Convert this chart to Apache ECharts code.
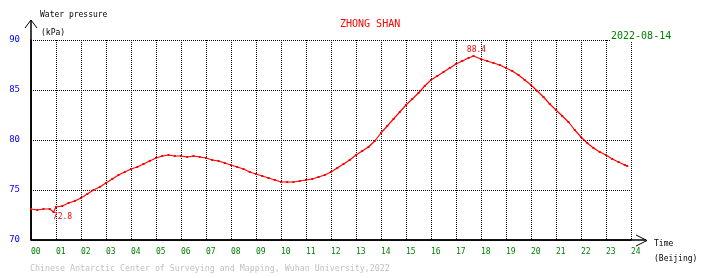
<!DOCTYPE html>
<html>
<head>
<meta charset="utf-8">
<script src="https://cdn.jsdelivr.net/npm/echarts@6/dist/echarts.min.js"></script>
<style>html,body{margin:0;padding:0;background:#fff}#c{width:710px;height:278px}</style>
</head>
<body>
<div id="c"></div>
<script>
const hours = [0.00,0.25,0.50,0.75,0.90,1.00,1.25,1.50,1.75,2.00,2.25,2.50,2.75,3.00,3.25,3.50,3.75,4.00,4.25,4.50,4.75,5.00,5.25,5.50,5.75,6.00,6.25,6.50,6.75,7.00,7.25,7.50,7.75,8.00,8.25,8.50,8.75,9.00,9.25,9.50,9.75,10.00,10.25,10.50,10.75,11.00,11.25,11.50,11.75,12.00,12.25,12.50,12.75,13.00,13.25,13.50,13.75,14.00,14.25,14.50,14.75,15.00,15.25,15.50,15.75,16.00,16.25,16.50,16.75,17.00,17.25,17.50,17.70,18.00,18.25,18.50,18.75,19.00,19.25,19.50,19.75,20.00,20.25,20.50,20.75,21.00,21.25,21.50,21.75,22.00,22.25,22.50,22.75,23.00,23.25,23.50,23.75,23.85];
const pressure = [73.1,73.0,73.1,73.1,72.8,73.3,73.4,73.7,73.9,74.2,74.6,75.0,75.3,75.7,76.1,76.5,76.8,77.1,77.3,77.6,77.9,78.2,78.4,78.5,78.4,78.4,78.3,78.4,78.3,78.2,78.0,77.9,77.7,77.5,77.3,77.1,76.8,76.6,76.4,76.2,76.0,75.8,75.8,75.8,75.9,76.0,76.1,76.3,76.5,76.8,77.2,77.6,78.0,78.5,78.9,79.3,79.9,80.7,81.4,82.1,82.8,83.5,84.1,84.7,85.4,86.0,86.4,86.8,87.2,87.6,87.9,88.2,88.4,88.1,87.9,87.7,87.5,87.2,86.9,86.5,86.0,85.5,84.9,84.3,83.6,83.0,82.4,81.8,81.0,80.3,79.7,79.2,78.8,78.5,78.1,77.8,77.5,77.4];
const yTicks = [70,75,80,85,90];
const xTickLabels = ['00','01','02','03','04','05','06','07','08','09','10','11','12','13','14','15','16','17','18','19','20','21','22','23','24'];
const titleText = 'ZHONG SHAN';
const dateText = '2022-08-14';
const footer = 'Chinese Antarctic Center of Surveying and Mapping, Wuhan University,2022';

const F = 'DejaVu Sans Mono, monospace';
const chart = echarts.init(document.getElementById('c'), null, {renderer:'canvas'});
const data = hours.map((h,i)=>[h, pressure[i]]);
chart.setOption({
  animation:false,
  backgroundColor:'#fff',
  grid:{left:31, top:40, width:600, height:200},
  xAxis:{type:'value', min:0, max:24, interval:1,
    axisLine:{show:true, lineStyle:{color:'#000', width:1.5}},
    axisTick:{show:false},
    axisLabel:{color:'#008000', fontFamily:F, fontSize:8, align:'left', margin:8,
      formatter:v=>xTickLabels[Math.round(v)]},
    splitLine:{show:true, lineStyle:{color:'#000', type:[1,1], width:1}}
  },
  yAxis:{type:'value', min:70, max:90, interval:5,
    axisLine:{show:true, lineStyle:{color:'#000', width:1.5}},
    axisTick:{show:false},
    axisLabel:{color:'#0000ff', fontFamily:F, fontSize:9, margin:11, padding:[0,0,5,0],
      formatter:v=>yTicks.includes(v)?String(v):''},
    splitLine:{show:true, lineStyle:{color:'#000', type:[1,1], width:1}}
  },
  series:[{type:'line', data:data, showSymbol:true, symbol:'rect', symbolSize:2,
    itemStyle:{color:'#ff0000'},
    lineStyle:{color:'#ff0000', width:1.2}, z:5,
    markPoint:{symbol:'circle', symbolSize:0,
      data:[
        {type:'max', label:{show:true, position:'top', distance:2, offset:[3,0], color:'#ff0000', fontFamily:F, fontSize:8, formatter:p=>p.value.toFixed(1)}},
        {type:'min', label:{show:true, position:'bottom', distance:1, offset:[9,0], color:'#ff0000', fontFamily:F, fontSize:8, formatter:p=>p.value.toFixed(1)}}
      ]}
  }],
  graphic:[
    {type:'line', shape:{x1:31,y1:240,x2:31,y2:20}, style:{stroke:'#000', lineWidth:1.5}},
    {type:'polyline', shape:{points:[[25,28],[31,20],[37,28]]}, style:{stroke:'#000', lineWidth:1, fill:null}},
    {type:'line', shape:{x1:31,y1:240,x2:646,y2:240}, style:{stroke:'#000', lineWidth:1.5}},
    {type:'polyline', shape:{points:[[636,235],[647,240.5],[636,246]]}, style:{stroke:'#000', lineWidth:1, fill:null}},
    {type:'text', left:40, top:11, style:{text:'Water pressure', font:'8px '+F, fill:'#000'}},
    {type:'text', left:41, top:29, style:{text:'(kPa)', font:'8px '+F, fill:'#000'}},
    {type:'text', left:654, top:240, style:{text:'Time', font:'8px '+F, fill:'#000'}},
    {type:'text', left:654, top:255, style:{text:'(Beijing)', font:'8px '+F, fill:'#000'}},
    {type:'text', left:340, top:19, style:{text:titleText, font:'10px '+F, fill:'#ff0000'}},
    {type:'text', left:611, top:31, z:10, style:{text:dateText, font:'10px '+F, fill:'#008000', backgroundColor:'#fff'}},
    {type:'text', left:30, top:265, style:{text:footer, font:'8.3px '+F, fill:'#c0c0c0'}}
  ]
});
</script>
</body>
</html>
